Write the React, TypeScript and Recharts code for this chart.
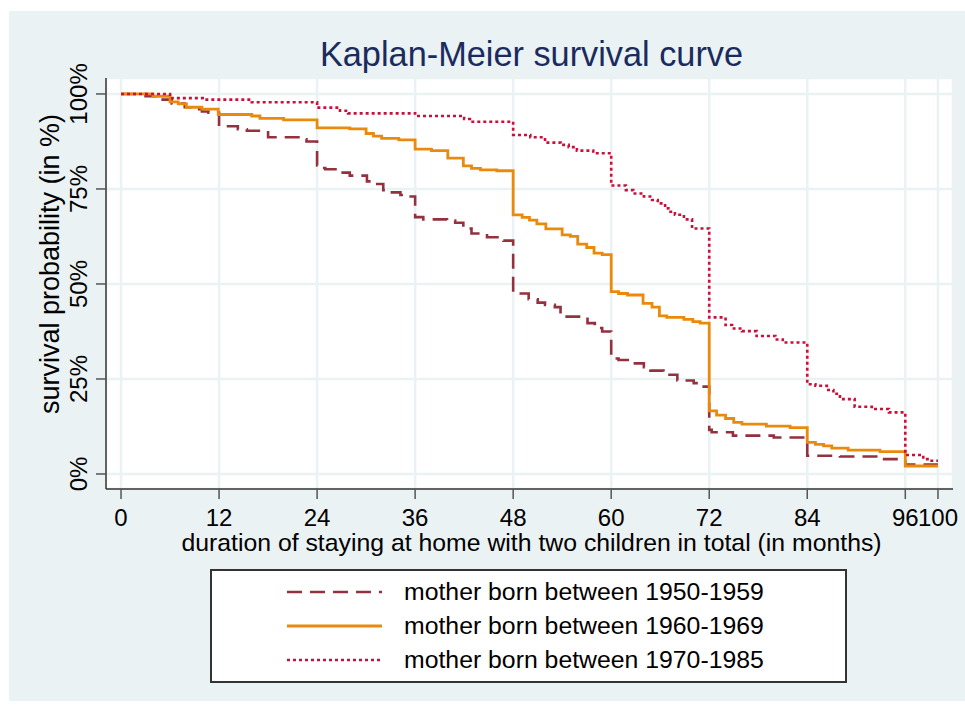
import React from 'react';
import { LineChart, Line, XAxis, YAxis, CartesianGrid } from 'recharts';

// Kaplan-Meier step points: time (months) and survival (%)
const t1950 = [0, 3, 4.4, 6.2, 7.8, 8.8, 9.9, 10.7, 12, 14.3, 15.4, 18, 22.1, 22.7, 24, 24.7, 25, 26.8, 28, 30.1, 30.7, 32.1, 32.9, 34.2, 35.2, 36, 37, 39.9, 40.9, 41.9, 42.9, 44.8, 46.8, 48, 49.9, 51, 51.9, 53.1, 53.8, 57.1, 58, 58.9, 60, 60.9, 62.7, 64, 64.8, 66.4, 68.1, 70.1, 70.9, 72, 72.3, 74.9, 79.9, 84, 88, 92.9, 96, 100];
const s1950 = [100, 99.4, 98.5, 97.5, 96.5, 96.0, 95.4, 95.1, 91.5, 90.7, 90.3, 88.6, 88.1, 87.5, 81.2, 80.5, 80.2, 79.3, 78.5, 77.0, 76.3, 74.7, 74.1, 73.4, 73.0, 67.6, 67.0, 66.7, 66.1, 64.6, 63.3, 62.3, 61.4, 47.5, 46.0, 45.1, 44.5, 43.9, 41.4, 39.7, 38.4, 37.5, 30.4, 30.0, 29.1, 28.1, 27.2, 26.1, 24.6, 23.9, 23.0, 11.6, 11.0, 10.1, 9.6, 4.8, 4.6, 3.9, 2.5, 2.5];

const t1960 = [0, 3.9, 6, 7, 8, 9.9, 11.9, 16, 17, 19.9, 24, 28, 30, 30.9, 31.9, 34, 36, 38, 40, 41.9, 42.9, 44, 46, 48, 49.1, 50, 50.9, 52, 54, 55, 55.9, 57, 57.9, 58.9, 60, 60.9, 62, 63.9, 65, 65.9, 66.8, 68.9, 70, 70.9, 72, 72.9, 74, 75, 76, 79, 81.9, 84, 85, 86, 87, 89, 92.9, 96, 100];
const s1960 = [100, 99.4, 97.9, 97.4, 96.5, 96.0, 94.6, 94.2, 93.6, 93.2, 91.1, 90.8, 89.6, 88.9, 88.3, 87.9, 85.5, 85.1, 83.1, 81.1, 80.4, 80.0, 79.8, 68.2, 67.5, 66.8, 65.8, 64.5, 62.9, 62.5, 60.5, 59.6, 58.1, 57.7, 48.0, 47.5, 47.1, 44.9, 43.9, 41.6, 41.2, 40.7, 40.1, 39.7, 16.6, 15.5, 14.6, 13.6, 13.1, 12.6, 12.2, 8.3, 7.8, 7.4, 6.8, 6.3, 5.9, 2.1, 2.1];

const t1970 = [0, 6, 10, 16, 24, 26.8, 27.8, 36, 42, 42.7, 48, 50.1, 51.9, 53.8, 54.8, 55.8, 57.8, 60, 61.8, 62.7, 64, 65, 65.7, 66.6, 67, 67.8, 68.9, 69.9, 72, 74, 74.8, 76, 77.8, 80.1, 81, 84, 85, 86.4, 87.2, 88, 89.8, 91.9, 94, 96, 98.2, 99, 100];
const s1970 = [100, 98.9, 98.5, 97.8, 96.4, 95.6, 94.9, 94.2, 93.4, 92.7, 89.2, 88.6, 87.2, 86.6, 86.0, 85.1, 84.4, 75.9, 74.7, 73.8, 73.0, 72.1, 71.2, 69.9, 69.0, 68.2, 67.0, 64.6, 41.2, 39.2, 38.3, 37.6, 36.3, 35.4, 34.6, 23.6, 23.2, 22.1, 21.1, 19.7, 17.7, 17.1, 16.2, 5.0, 3.9, 3.5, 3.5];

const xTicks = [0, 12, 24, 36, 48, 60, 72, 84, 96, 100];
const yTicks = [0, 25, 50, 75, 100];

const seriesNames = ['mother born between 1950-1959', 'mother born between 1960-1969', 'mother born between 1970-1985'];

const toRows = (t: number[], s: number[]) => t.map((v, i) => ({ t: v, s: s[i] }));

const FONT = '"Liberation Sans", Arial, Helvetica, sans-serif';

const series = [
  { name: seriesNames[0], data: toRows(t1950, s1950), color: '#93313f', dash: '15 8', width: 2.6 },
  { name: seriesNames[1], data: toRows(t1960, s1960), color: '#ea8a0c', dash: undefined, width: 2.8 },
  { name: seriesNames[2], data: toRows(t1970, s1970), color: '#c8103a', dash: '3 3', width: 2.6 },
];

const YTick = (props: any) => {
  const { x, y, payload } = props;
  const bx = x - 7;
  return (
    <text x={bx} y={y} transform={`rotate(-90 ${bx} ${y})`} textAnchor="middle" fontSize={24} fill="#000" fontFamily={FONT}>
      {payload.value}%
    </text>
  );
};

export default function App() {
  return (
    <div style={{ position: 'absolute', left: 0, top: 0, width: 965, height: 707, background: '#fff', fontFamily: FONT, overflow: 'hidden' }}>
      <div style={{ position: 'absolute', left: 9, top: 11, width: 956, height: 690, background: '#eaf2f3' }} />
      <div style={{ position: 'absolute', left: 106, width: 851, top: 37, textAlign: 'center', fontSize: 34.3, lineHeight: '34px', color: '#1a2b5f' }}>
        Kaplan-Meier survival curve
      </div>
      <LineChart width={965} height={707} margin={{ top: 78, right: 12, bottom: 188, left: 46 }} style={{ position: 'absolute', left: 0, top: 0 }}>
        <CartesianGrid fill="#fff" stroke="#eaf2f3" strokeWidth={2.5} />
        <XAxis
          dataKey="t"
          type="number"
          domain={[-1.84, 101.84]}
          ticks={xTicks}
          interval={0}
          allowDuplicatedCategory={false}
          height={30}
          tickSize={10}
          tickMargin={10}
          tick={{ fontSize: 24, fill: '#000', fontFamily: FONT }}
          stroke="#333"
          axisLine={{ stroke: '#333', strokeWidth: 1.5 }}
          tickLine={{ stroke: '#555', strokeWidth: 1.5 }}
          label={{
            content: (p: any) => {
              const vb = p.viewBox;
              return (
                <text x={vb.x + vb.width / 2 + 2} y={vb.y + 62} textAnchor="middle" fontSize={24.8} fill="#000" fontFamily={FONT}>
                  duration of staying at home with two children in total (in months)
                </text>
              );
            },
          }}
        />
        <YAxis
          type="number"
          domain={[-3.95, 104.2]}
          ticks={yTicks}
          interval={0}
          width={60}
          tickSize={10}
          tickMargin={2}
          tick={<YTick />}
          axisLine={{ stroke: '#333', strokeWidth: 1.5 }}
          tickLine={{ stroke: '#555', strokeWidth: 1.5 }}
          label={{
            content: (p: any) => {
              const vb = p.viewBox;
              const cx = vb.x + 13;
              const cy = 264;
              return (
                <text x={cx} y={cy} transform={`rotate(-90 ${cx} ${cy})`} textAnchor="middle" fontSize={27} fill="#000" fontFamily={FONT}>
                  survival probability (in %)
                </text>
              );
            },
          }}
        />
        {series.map((s) => (
          <Line
            key={s.name}
            data={s.data}
            dataKey="s"
            name={s.name}
            type="stepAfter"
            stroke={s.color}
            strokeWidth={s.width}
            strokeDasharray={s.dash}
            dot={false}
            activeDot={false}
            isAnimationActive={false}
          />
        ))}
      </LineChart>
      <div style={{ position: 'absolute', left: 210, top: 569, width: 633, height: 110, background: '#fff', border: '2px solid #333' }}>
        {series.map((s, i) => (
          <div key={s.name} style={{ position: 'absolute', left: 75, top: 6 + i * 34, height: 30, display: 'flex', alignItems: 'center' }}>
            <svg width={95} height={10}>
              <line x1={0} x2={95} y1={5} y2={5} stroke={s.color} strokeWidth={s.width} strokeDasharray={s.dash} />
            </svg>
            <span style={{ marginLeft: 22, fontSize: 24.8, color: '#000', whiteSpace: 'nowrap' }}>{s.name}</span>
          </div>
        ))}
      </div>
    </div>
  );
}
